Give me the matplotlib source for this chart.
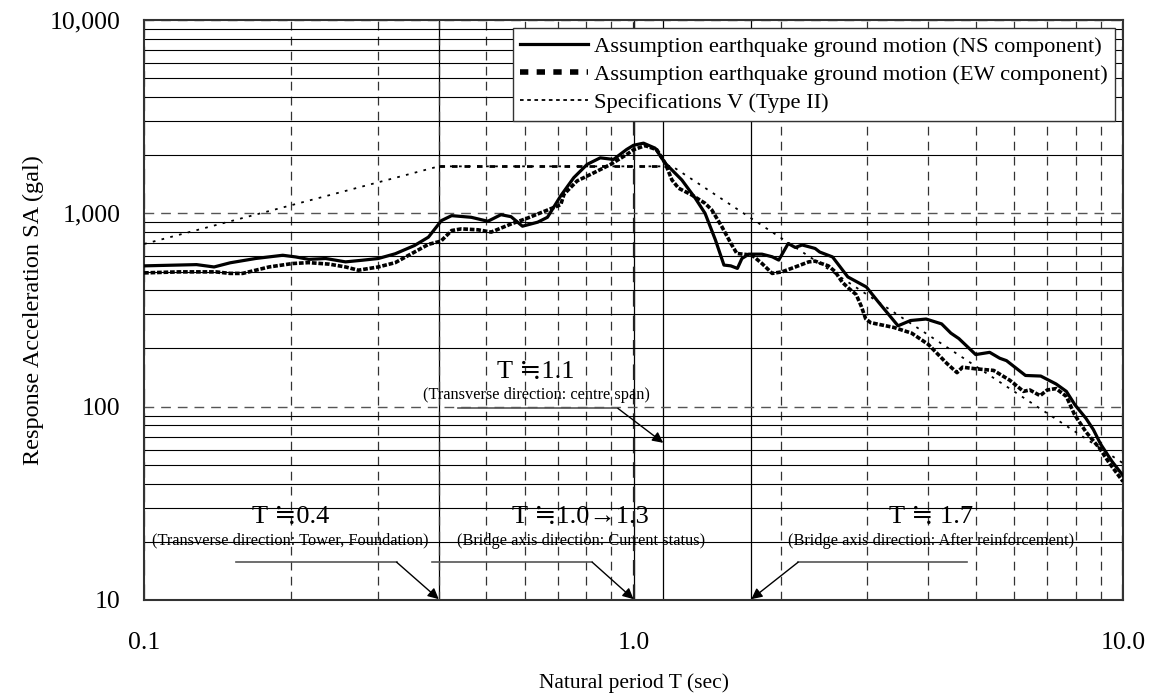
import matplotlib
matplotlib.use("Agg")
import matplotlib.pyplot as plt
from matplotlib.lines import Line2D
from matplotlib.ticker import FixedLocator, FixedFormatter, NullFormatter, LogLocator

plt.rcParams['font.family'] = ['Liberation Serif', 'DejaVu Serif', 'DejaVu Sans']

# ---- data (T in sec, SA in gal) ----
ns_T = [0.100, 0.128, 0.139, 0.150, 0.169, 0.192, 0.204, 0.217, 0.235, 0.258,
        0.279, 0.301, 0.326, 0.357, 0.381, 0.405, 0.425, 0.466, 0.504, 0.536,
        0.562, 0.593, 0.637, 0.667, 0.710, 0.755, 0.804, 0.855, 0.910, 0.968,
        1.000, 1.048, 1.107, 1.160, 1.255, 1.337, 1.400, 1.470, 1.530, 1.580,
        1.630, 1.665, 1.720, 1.830, 1.920, 1.980, 2.070, 2.140, 2.210, 2.280,
        2.350, 2.400, 2.550, 2.740, 2.990, 3.160, 3.470, 3.680, 3.960, 4.260,
        4.450, 4.620, 5.000, 5.340, 5.600, 5.780, 6.320, 6.790, 7.300, 7.660,
        7.980, 8.400, 8.700, 9.000, 9.500, 10.00]
ns_SA = [535, 543, 528, 555, 584, 607, 595, 578, 584, 561,
         572, 584, 618, 682, 753, 917, 973, 954, 910, 984,
         961, 858, 900, 954, 1232, 1530, 1792, 1937, 1900, 2140,
         2250, 2307, 2173, 1820, 1488, 1197, 1000, 728, 540, 535,
         519, 584, 615, 615, 596, 573, 698, 666, 686, 672,
         658, 631, 595, 469, 416, 349, 262, 279, 284, 268,
         240, 225, 186, 191, 178, 173, 145, 144, 131, 120,
         102, 87, 76, 64, 52, 44]

ew_T = [0.100, 0.118, 0.140, 0.150, 0.159, 0.180, 0.201, 0.217, 0.239, 0.258,
        0.274, 0.301, 0.326, 0.357, 0.381, 0.404, 0.425, 0.445, 0.481, 0.512,
        0.562, 0.608, 0.667, 0.710, 0.721, 0.767, 0.830, 0.898, 0.968, 1.000,
        1.056, 1.116, 1.160, 1.198, 1.236, 1.315, 1.400, 1.445, 1.515, 1.588,
        1.626, 1.745, 1.830, 1.920, 2.010, 2.140, 2.280, 2.350, 2.420, 2.500,
        2.580, 2.670, 2.750, 2.850, 2.920, 2.980, 3.050, 3.400, 3.700, 4.000,
        4.370, 4.580, 4.700, 5.000, 5.440, 5.870, 6.260, 6.450, 6.770, 7.000,
        7.300, 7.660, 7.960, 8.400, 8.950, 9.380, 10.00]
ew_SA = [492, 498, 498, 489, 489, 528, 550, 556, 546, 528,
         508, 528, 556, 631, 691, 718, 815, 831, 822, 800,
         881, 946, 1040, 1108, 1256, 1472, 1622, 1792, 2014, 2133,
         2240, 2133, 1820, 1488, 1349, 1245, 1127, 1041, 853, 685,
         620, 608, 550, 489, 498, 528, 561, 566, 550, 535,
         500, 440, 410, 380, 330, 285, 272, 257, 240, 210,
         167, 150, 160, 157, 154, 137, 120, 122, 114, 122,
         124, 113, 91, 74, 61, 51, 41]

spec_T = [0.1, 0.4, 1.2, 10.0]
spec_SA = [694, 1750, 1750, 51]

marker_T = [0.4, 1.0, 1.15, 1.74]

labels = ["Assumption earthquake ground motion (NS component)",
          "Assumption earthquake ground motion (EW component)",
          "Specifications V (Type II)"]

# annotation texts: (title, subtitle)
notes = [("T \u22521.1", "(Transverse direction: centre span)"),
         ("T \u22520.4", "(Transverse direction: Tower, Foundation)"),
         ("T \u22521.0\u21921.3", "(Bridge axis direction: Current status)"),
         ("T \u2252 1.7", "(Bridge axis direction: After reinforcement)")]

# ---- figure ----
fig = plt.figure(figsize=(11.58, 6.95), dpi=100)
ax = fig.add_axes([0.1244, 0.1367, 0.8454, 0.8345])
ax.set_xscale('log')
ax.set_yscale('log')
ax.set_xlim(0.1, 10)
ax.set_ylim(10, 10000)

# grid
ax.yaxis.set_minor_locator(LogLocator(base=10, subs=range(2, 10)))
ax.xaxis.set_minor_locator(LogLocator(base=10, subs=range(2, 10)))
ax.grid(True, which='minor', axis='y', color='black', lw=0.8, ls='-')
ax.grid(True, which='major', axis='y', color='#555555', lw=1.0, ls=(0, (7, 5)))
ax.grid(True, which='minor', axis='x', color='#333333', lw=0.9, ls=(0, (7, 5)))
ax.grid(True, which='major', axis='x', color='#222222', lw=1.6, ls=(0, (7, 4)))
for t in marker_T:
    ax.axvline(t, color='black', lw=0.9, zorder=1.5)

# curves
ax.plot(spec_T, spec_SA, color='black', lw=1.3, ls=(0, (1.5, 3.5)), zorder=3)
ax.plot(spec_T[1:3], spec_SA[1:3], color='black', lw=2.0, ls=(0, (2, 2.5)), zorder=3)
ax.plot(ew_T, ew_SA, color='black', lw=2.6, ls=(0, (1.3, 0.5)), zorder=4)
ax.plot(ns_T, ns_SA, color='black', lw=2.3, zorder=5)

# ticks
ax.xaxis.set_major_locator(FixedLocator([0.1, 1, 10]))
ax.xaxis.set_major_formatter(FixedFormatter(["0.1", "1.0", "10.0"]))
ax.xaxis.set_minor_formatter(NullFormatter())
ax.yaxis.set_major_locator(FixedLocator([10, 100, 1000, 10000]))
ax.yaxis.set_major_formatter(FixedFormatter(["10", "100", "1,000", "10,000"]))
ax.yaxis.set_minor_formatter(NullFormatter())
ax.tick_params(which='both', length=0)
ax.tick_params(axis='x', labelsize=18.5, pad=23)
ax.tick_params(axis='y', labelsize=18.5, pad=17)
for s in ax.spines.values():
    s.set_color('#333333')
    s.set_linewidth(1.5)

ax.set_xlabel("Natural period T (sec)", fontsize=15.5, labelpad=14)
ax.set_ylabel("Response Acceleration SA (gal)", fontsize=17.5, labelpad=4)

# legend
handles = [Line2D([], [], color='black', lw=2.3),
           Line2D([], [], color='black', lw=4, ls=(0, (1.5, 1.5))),
           Line2D([], [], color='black', lw=1.3, ls=(0, (2, 2)))]
leg = ax.legend(handles, labels, loc='upper right', bbox_to_anchor=(0.992, 0.986),
                borderaxespad=0, fontsize=16.2, handlelength=3.0, handletextpad=0.25,
                labelspacing=0.32, fancybox=False, framealpha=1, edgecolor='#333333',
                borderpad=0.35)
leg.get_frame().set_linewidth(1.0)
leg.set_zorder(10)

# annotations
def note(i, xt, y_title, y_sub, x0, x1, y_line, tip, y_tip):
    title, sub = notes[i]
    ax.text(xt, y_title, title, ha='center', va='baseline', fontsize=19, zorder=6)
    ax.text(xt, y_sub, sub, ha='center', va='baseline', fontsize=11.8, zorder=6)
    ax.plot([x0, x1], [y_line, y_line], color='#555555', lw=1.2, zorder=6)
    start = x1 if tip > x1 else x0
    ax.annotate("", xy=(tip, y_tip), xytext=(start, y_line),
                arrowprops=dict(arrowstyle='-|>', color='black', lw=1.0,
                                mutation_scale=16, shrinkA=0, shrinkB=0), zorder=6)

note(0, 0.632, 140, 109, 0.437, 0.929, 98, marker_T[2], 65)
note(1, 0.199, 25, 19.3, 0.154, 0.328, 15.7, marker_T[0], 10.1)
note(2, 0.78, 25, 19.3, 0.388, 0.823, 15.7, marker_T[1], 10.1)
note(3, 4.05, 25, 19.3, 2.17, 4.81, 15.7, marker_T[3], 10.1)

fig.savefig("out.png", dpi=100)
